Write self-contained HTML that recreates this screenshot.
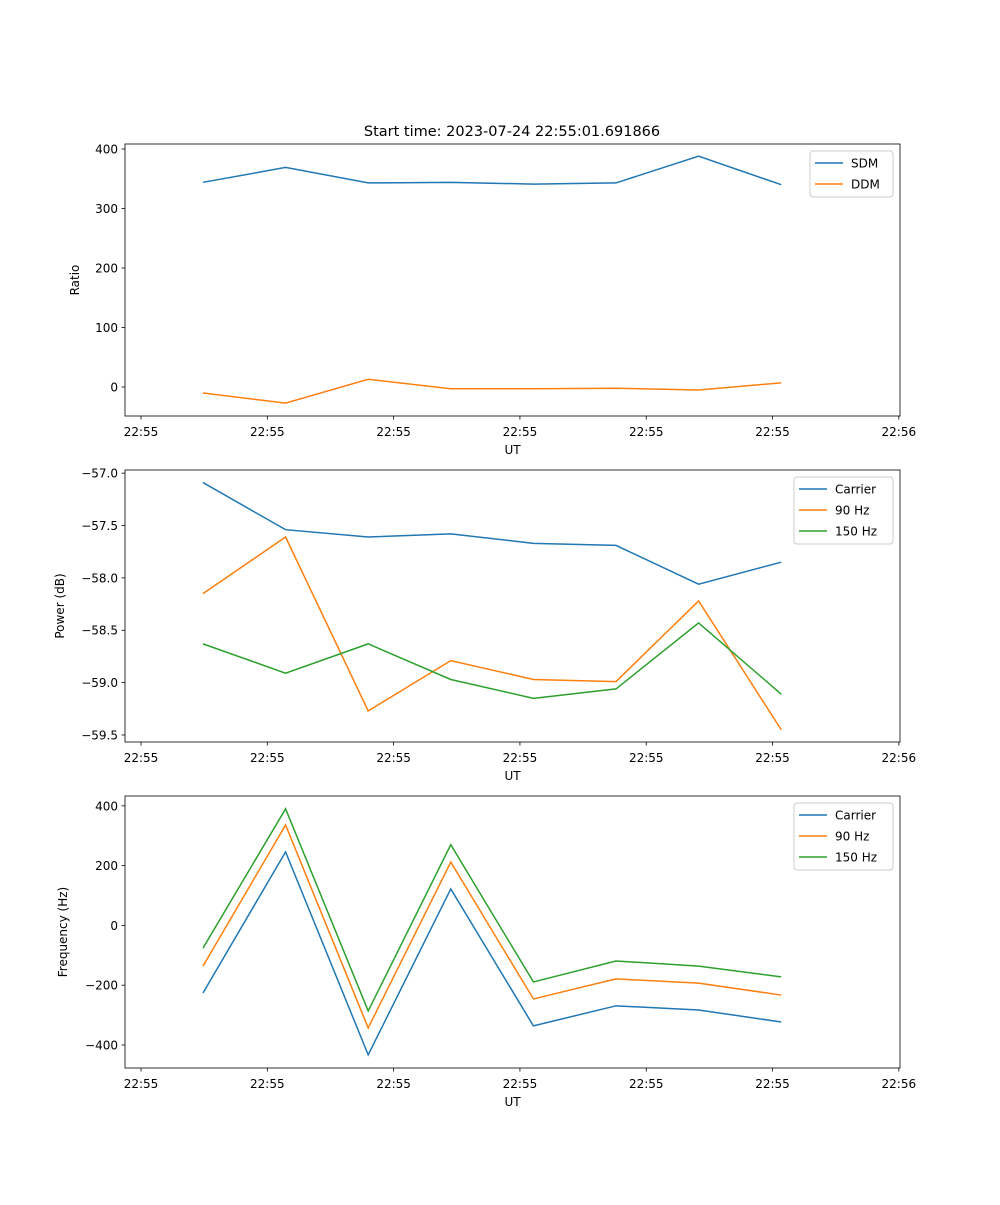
<!DOCTYPE html>
<html><head><meta charset="utf-8"><style>
body{margin:0;background:#fff;}
svg text{font-family:"DejaVu Sans","Liberation Sans",sans-serif;fill:#000;}
</style></head><body>
<svg id="fig" width="1000" height="1200" xmlns="http://www.w3.org/2000/svg"></svg>
<script>
const xIndex = [0,1,2,3,4,5,6,7];
const xTickPos = [-0.75,0.779,2.308,3.837,5.366,6.895,8.424];
const xTickLabels = ["22:55","22:55","22:55","22:55","22:55","22:55","22:56"];
const sdm = [344,369,343,344,341,343,388,340];
const ddm = [-10,-27,13,-3,-3,-2,-5,7];
const powCarrier = [-57.09,-57.54,-57.61,-57.58,-57.67,-57.69,-58.06,-57.85];
const pow90 = [-58.15,-57.61,-59.27,-58.79,-58.97,-58.99,-58.22,-59.45];
const pow150 = [-58.63,-58.91,-58.63,-58.97,-59.15,-59.06,-58.43,-59.11];
const freqCarrier = [-226,246,-433,122,-336,-269,-283,-323];
const freq90 = [-136,336,-343,212,-246,-179,-193,-233];
const freq150 = [-76,390,-286,270,-189,-119,-136,-172];
const ratioTicks = [0,100,200,300,400];
const powTicks = [-57.0,-57.5,-58.0,-58.5,-59.0,-59.5];
const freqTicks = [-400,-200,0,200,400];

const NS="http://www.w3.org/2000/svg";
const svg=document.getElementById('fig');
function mk(tag,attrs,parent){const e=document.createElementNS(NS,tag);for(const k in attrs)e.setAttribute(k,attrs[k]);(parent||svg).appendChild(e);return e;}
const L=125,R=900,xmin=-0.944,xmax=8.438;
function xs(v){return L+(v-xmin)/(xmax-xmin)*(R-L);}
const colors=["#1f77b4","#ff7f0e","#2ca02c"];

function panel(name,top,bottom,ymin,ymax,yTicks,fmt,ylabel,series,names,legend){
  const g=mk('g',{});
  
  
  const ys=v=>bottom-(v-ymin)/(ymax-ymin)*(bottom-top);
  series.forEach((s,i)=>{
    const p=mk('polyline',{points:s.map((v,j)=>xs(xIndex[j])+','+ys(v)).join(' '),fill:'none',stroke:colors[i],'stroke-width':1.5},g);
    
    
  });
  const fr=mk('rect',{x:L,y:top,width:R-L,height:bottom-top,fill:'none',stroke:'#000','stroke-width':0.8},g);
  
  
  xTickPos.forEach((t,i)=>{
    const x=xs(t);
    mk('line',{x1:x,x2:x,y1:bottom,y2:bottom+3.5,stroke:'#000','stroke-width':0.8},g);
    const tx=mk('text',{x:x,y:bottom+20,'font-size':12,'text-anchor':'middle'},g);
    tx.textContent=xTickLabels[i];
    
    
  });
  yTicks.forEach(t=>{
    const y=ys(t);
    mk('line',{x1:L,x2:L-3.5,y1:y,y2:y,stroke:'#000','stroke-width':0.8},g);
    const tx=mk('text',{x:L-7,y:y+4.5,'font-size':12,'text-anchor':'end'},g);
    tx.textContent=fmt(t);
    
    
  });
  const xl=mk('text',{x:(L+R)/2,y:bottom+38,'font-size':12,'text-anchor':'middle'},g);
  xl.textContent='UT';
  
  
  const yl=mk('text',{x:0,y:0,'font-size':12,'text-anchor':'middle',transform:`translate(${legend.ylx},${(top+bottom)/2}) rotate(-90)`},g);
  yl.textContent=ylabel;
  
  
  const lg=mk('g',{},g);
  
  
  mk('rect',{x:legend.x,y:legend.y,width:legend.w,height:names.length*21+4,rx:3,fill:'#fff',stroke:'#ccc','stroke-width':1},lg);
  names.forEach((n,i)=>{
    const yy=legend.y+12+i*21;
    mk('line',{x1:legend.x+5,x2:legend.x+33,y1:yy,y2:yy,stroke:colors[i],'stroke-width':1.5},lg);
    const t=mk('text',{x:legend.x+41,y:yy+4.5,'font-size':12},lg);
    t.textContent=n;
    
    
  });
}
const minus=s=>s.replace('-','\u2212');
const title=mk('text',{x:512,y:136,'font-size':14.5,'text-anchor':'middle'});
title.textContent='Start time: 2023-07-24 22:55:01.691866';


panel('ratio-panel',144,416,-48.7,408.4,ratioTicks,t=>minus(String(t)),'Ratio',[sdm,ddm],['SDM','DDM'],{x:810,y:151,w:83,ylx:79});
panel('power-panel',470,742,-59.567,-56.97,powTicks,t=>minus(t.toFixed(1)),'Power (dB)',[powCarrier,pow90,pow150],['Carrier','90 Hz','150 Hz'],{x:794,y:477,w:99,ylx:64});
panel('frequency-panel',796,1068,-477,433,freqTicks,t=>minus(String(t)),'Frequency (Hz)',[freqCarrier,freq90,freq150],['Carrier','90 Hz','150 Hz'],{x:794,y:803,w:99,ylx:67});
</script>
</body></html>
